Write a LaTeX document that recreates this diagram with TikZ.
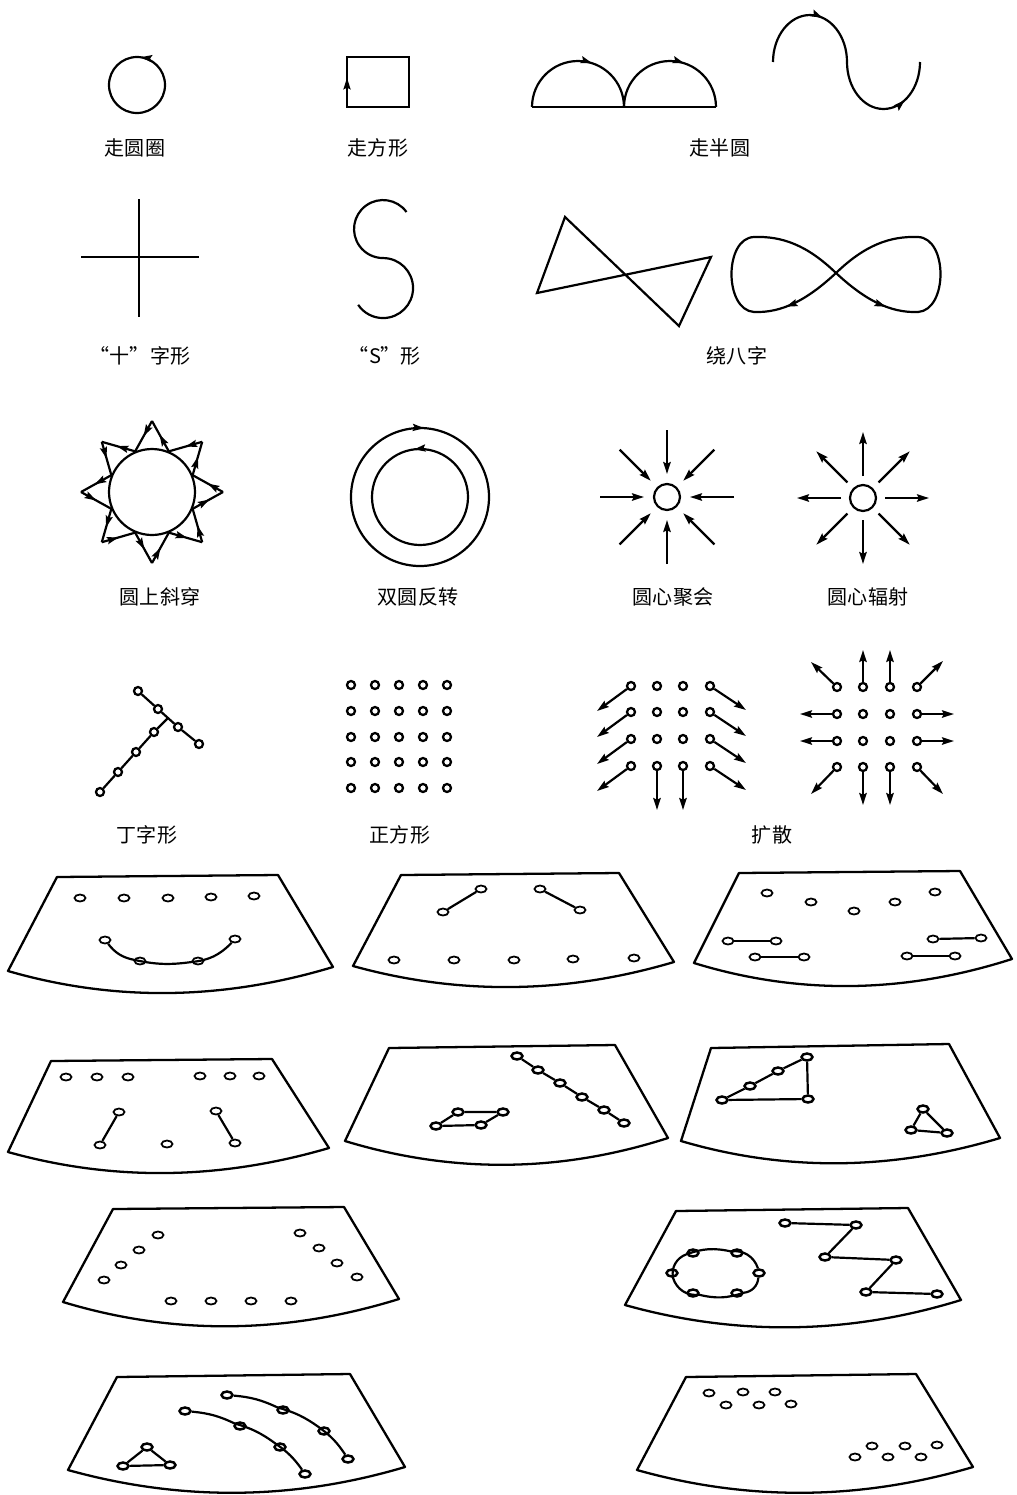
\documentclass[tikz,border=0pt]{standalone}
\usepackage{fontspec}
\newfontfamily\cjk{Noto Sans CJK SC}
\usepackage{tikz}
\usetikzlibrary{shapes.geometric, arrows.meta, positioning, calc, decorations.markings}

\tikzset{
  lbl/.style={font=\cjk\fontsize{11.4}{13}\selectfont, inner sep=0pt},
  arr/.style={-{Stealth[length=6.8pt,width=4.2pt,inset=1pt]}},
  midarrow/.style={postaction={decorate,decoration={markings,mark=at position #1 with {\arrow{Stealth[length=6.5pt,width=4pt,inset=1pt]}}}}},
  midarrow/.default=0.5,
  pdot/.style={circle, draw, minimum size=0.16cm, inner sep=0pt, line width=1.3pt},
  fdot/.style={ellipse, draw, minimum width=0.22cm, minimum height=0.14cm, inner sep=0pt, line width=1pt},
  bdot/.style={fdot, line width=1.4pt},
  stage/.style={line width=1.3pt, line join=round}
}
\newcommand\stagefield[5]{\draw[stage] (#1) -- (#2) -- (#3) .. controls ($(#3)!2/3!(#5)$) and ($(#4)!2/3!(#5)$) .. (#4) -- cycle;}

\begin{document}
\begin{tikzpicture}[x=0.02cm, y=-0.02cm, line width=1.25pt]
        \useasboundingbox (0,0) rectangle (1017,1495);

        % walking figures
        \draw[midarrow=0.23] (165,85) arc[start angle=0, end angle=-360, radius=28];
        \node[lbl] (l-circle) at (135,148) {走圆圈};
        \draw[midarrow=0.13] (347,107) -- (347,57) -- (409,57) -- (409,107) -- cycle;
        \node[lbl] (l-square) at (378,148) {走方形};
        \draw (532,107) -- (716,107);
        \draw[midarrow=0.6] (532,107) arc[start angle=180, end angle=360, radius=46];
        \draw[midarrow=0.6] (624,107) arc[start angle=180, end angle=360, radius=46];
        \draw[midarrow=0.3, midarrow=0.84] (773,62) arc[start angle=180, end angle=360, x radius=37, y radius=47]
            arc[start angle=180, end angle=0, x radius=36.5, y radius=47];
        \node[lbl] (l-half) at (720,148) {走半圆};

        \draw (139,199) -- (139,317);
        \draw (81,257) -- (199,257);
        \node[lbl] (l-cross) at (140,356) {“十”字形};
        \draw (406.5,212) arc[start angle=-36, end angle=-270, radius=29]
            arc[start angle=-90, end angle=146, radius=30];
        \node[lbl] (l-s) at (385,356) {“S”形};
        \draw (565,217) -- (679,326) -- (711,257) -- (537,293) -- cycle;
        \coordinate (x8) at (836,273);
        \draw[midarrow=0.65] (x8) .. controls (865,300) and (890,313) .. (918,312);
        \draw (918,312) .. controls (948,310) and (948,238) .. (918,237) .. controls (890,236) and (865,245) .. (x8);
        \draw[midarrow=0.65] (x8) .. controls (807,300) and (782,313) .. (754,312);
        \draw (754,312) .. controls (724,310) and (724,238) .. (754,237) .. controls (782,236) and (807,245) .. (x8);
        \node[lbl] (l-eight) at (737,356) {绕八字};

        % circle figures
        \node[circle, draw, minimum size=1.72cm, inner sep=0pt] (sun) at (152,492) {};
        \foreach \k in {0,...,7} {
            \draw[midarrow=0.55] ($(sun.center)+({-67.5-45*\k}:44)$) -- ($(sun.center)+({-90-45*\k}:71)$);
            \draw[midarrow=0.5] ($(sun.center)+({-90-45*\k}:71)$) -- ($(sun.center)+({-112.5-45*\k}:44)$);
        }
        \node[lbl] (l-sun) at (160,597) {圆上斜穿};
        \draw[midarrow=0.26] (351,497) arc[start angle=180, end angle=540, radius=69];
        \draw[midarrow=0.27] (468,497) arc[start angle=0, end angle=-360, radius=48];
        \node[lbl] (l-double) at (418,597) {双圆反转};
        \node[circle, draw, minimum size=0.52cm, inner sep=0pt] (gather) at (667,497) {};
        \foreach \a in {0,45,...,315} {
            \coordinate (gin\a) at ($(gather)+(\a:67)$);
            \draw[arr] (gin\a) -- ($(gather)+(\a:23)$);
        }
        \node[lbl] (l-gather) at (673,597) {圆心聚会};
        \node[circle, draw, minimum size=0.52cm, inner sep=0pt] (spray) at (863,498) {};
        \foreach \a in {0,45,...,315} {
            \coordinate (sout\a) at ($(spray)+(\a:66)$);
            \draw[arr] ($(spray)+(\a:22)$) -- (sout\a);
        }
        \node[lbl] (l-spray) at (868,597) {圆心辐射};

        % dot figures
        \foreach \x/\y [count=\i] in {138/691,158/709,178/727,199/744} \node[pdot] (td\i) at (\x,\y) {};
        \foreach \x/\y [count=\i] in {154/732,136/752,118/772,100/792} \node[pdot] (tl\i) at (\x,\y) {};
        \coordinate (tj) at (168,718);
        \draw (td1) -- (td2) -- (td3) -- (td4);
        \draw (tj) -- (tl1) -- (tl2) -- (tl3) -- (tl4);
        \node[lbl] (l-ding) at (147,835) {丁字形};
        \foreach \x [count=\i] in {351,375,399,423,447}
            \foreach \y [count=\j] in {685,711,737,762,788}
                \node[pdot] (sq\i\j) at (\x,\y) {};
        \node[lbl] (l-grid) at (400,835) {正方形};

        \foreach \x [count=\i] in {631,657,683,710}
            \foreach \y [count=\j] in {686,712,739,766}
                \node[pdot] (p\i\j) at (\x,\y) {};
        \foreach \n/\dx/\dy in {p11/-34/25, p12/-34/25, p13/-34/25, p14/-34/25,
                p41/36/24, p42/36/24, p43/36/24, p44/36/24, p24/0/44, p34/0/44} {
            \coordinate (\n e) at ($(\n)+(\dx,\dy)$);
            \draw[arr] (\n) -- (\n e);
        }
        \foreach \x [count=\i] in {837,863,890,917}
            \foreach \y [count=\j] in {687,714,741,767}
                \node[pdot] (q\i\j) at (\x,\y) {};
        \foreach \n/\dx/\dy in {q11/-26/-25, q21/0/-37, q31/0/-37, q41/26/-26,
                q12/-37/0, q13/-37/0, q42/37/0, q43/37/0,
                q14/-26/27, q24/0/38, q34/0/38, q44/26/27} {
            \coordinate (\n e) at ($(\n)+(\dx,\dy)$);
            \draw[arr] (\n) -- (\n e);
        }
        \node[lbl] (l-spread) at (772,835) {扩散};

        % stage fields
        \stagefield{57,877}{278,875}{333,967}{8,971}{167,1017}
        \foreach \x/\y [count=\i] in {80/898,124/898,168/898,211/897,254/896} \node[fdot] (aa\i) at (\x,\y) {};
        \foreach \x/\y [count=\i] in {105/940,140/961,198/961,235/939} \node[fdot] (ab\i) at (\x,\y) {};
        \draw (ab1) to[bend right=20] (ab2) to[bend right=10] (ab3) to[bend right=20] (ab4);

        \stagefield{401,875}{619,873}{674,962}{353,966}{512,1010}
        \foreach \x/\y [count=\i] in {443/912,481/889,540/889,580/910} \node[fdot] (ba\i) at (\x,\y) {};
        \draw (ba1) -- (ba2);
        \draw (ba3) -- (ba4);
        \foreach \x/\y [count=\i] in {394/960,454/960,514/960,573/959,634/958} \node[fdot] (bb\i) at (\x,\y) {};

        \stagefield{739,873}{960,871}{1012,959}{694,963}{850,1011}
        \foreach \x/\y [count=\i] in {767/893,811/902,854/911,895/902,935/892} \node[fdot] (ca\i) at (\x,\y) {};
        \foreach \x/\y [count=\i] in {728/941,776/941,755/957,804/957,933/939,981/938,907/956,955/956} \node[fdot] (cb\i) at (\x,\y) {};
        \draw (cb1) -- (cb2);
        \draw (cb3) -- (cb4);
        \draw (cb5) -- (cb6);
        \draw (cb7) -- (cb8);

        \stagefield{51,1061}{272,1059}{329,1148}{8,1152}{165,1196}
        \foreach \x/\y [count=\i] in {66/1077,97/1077,128/1077,200/1076,230/1076,259/1076} \node[fdot] (da\i) at (\x,\y) {};
        \foreach \x/\y [count=\i] in {119/1112,100/1145,216/1111,235/1143,167/1144} \node[fdot] (db\i) at (\x,\y) {};
        \draw (db1) -- (db2);
        \draw (db3) -- (db4);

        \stagefield{389,1048}{615,1045}{668,1138}{345,1141}{506,1190}
        \foreach \x/\y [count=\i] in {517/1056,538/1070,560/1083,582/1097,604/1110,624/1123} \node[bdot] (ea\i) at (\x,\y) {};
        \draw (ea1) -- (ea2) -- (ea3) -- (ea4) -- (ea5) -- (ea6);
        \foreach \x/\y [count=\i] in {458/1112,503/1112,481/1125,436/1126} \node[bdot] (eb\i) at (\x,\y) {};
        \draw (eb1) -- (eb2) -- (eb3) -- (eb4) -- (eb1);

        \stagefield{711,1048}{949,1044}{1000,1138}{681,1141}{837,1187}
        \foreach \x/\y [count=\i] in {722/1100,750/1086,778/1071,807/1057,808/1099} \node[bdot] (fa\i) at (\x,\y) {};
        \draw (fa1) -- (fa2) -- (fa3) -- (fa4) -- (fa5) -- (fa1);
        \foreach \x/\y [count=\i] in {923/1109,911/1130,947/1133} \node[bdot] (fb\i) at (\x,\y) {};
        \draw (fb1) -- (fb2) -- (fb3) -- (fb1);

        \stagefield{113,1209}{344,1207}{399,1299}{63,1302}{228,1352}
        \foreach \x/\y [count=\i] in {158/1235,139/1250,121/1265,104/1280,300/1233,319/1248,337/1263,357/1277,
                171/1301,211/1301,251/1301,291/1301} \node[fdot] (ga\i) at (\x,\y) {};

        \stagefield{676,1211}{908,1208}{961,1300}{625,1305}{793,1352}
        \foreach \x/\y [count=\i] in {759/1273,737/1293,693/1293,672/1273,693/1253,737/1253} \node[bdot] (ha\i) at (\x,\y) {};
        \draw (ha1) to[bend left=40] (ha2) to[bend left=16] (ha3) to[bend left=40] (ha4)
            to[bend left=40] (ha5) to[bend left=16] (ha6) to[bend left=40] (ha1);
        \foreach \x/\y [count=\i] in {785/1223,856/1225,825/1257,896/1260,866/1292,937/1294} \node[bdot] (hb\i) at (\x,\y) {};
        \draw (hb1) -- (hb2) -- (hb3) -- (hb4) -- (hb5) -- (hb6);

        \stagefield{117,1377}{350,1374}{405,1467}{68,1470}{237,1517}
        \foreach \x/\y [count=\i] in {147/1447,123/1466,170/1465} \node[bdot] (ia\i) at (\x,\y) {};
        \draw (ia1) -- (ia2) -- (ia3) -- (ia1);
        \foreach \x/\y [count=\i] in {185/1411,240/1426,280/1447,305/1474} \node[bdot] (ib\i) at (\x,\y) {};
        \draw (ib1) to[bend left=10] (ib2) to[bend left=10] (ib3) to[bend left=10] (ib4);
        \foreach \x/\y [count=\i] in {227/1395,283/1410,324/1431,348/1459} \node[bdot] (ic\i) at (\x,\y) {};
        \draw (ic1) to[bend left=10] (ic2) to[bend left=10] (ic3) to[bend left=10] (ic4);

        \stagefield{686,1377}{916,1374}{973,1467}{637,1470}{804,1517}
        \foreach \x/\y [count=\i] in {709/1393,743/1392,775/1392,726/1405,759/1405,791/1404,
                872/1446,905/1446,937/1445,855/1457,888/1457,921/1457} \node[fdot] (ja\i) at (\x,\y) {};
    \end{tikzpicture}
\end{document}
